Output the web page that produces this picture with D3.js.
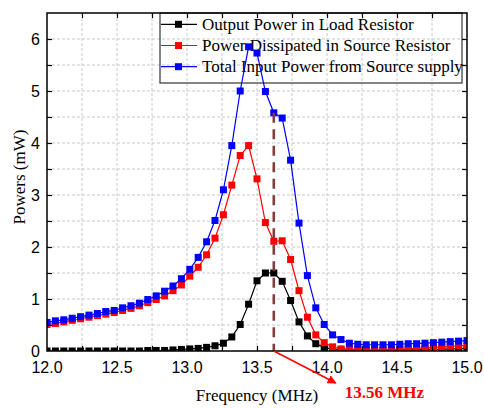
<!DOCTYPE html>
<html>
<head>
<meta charset="utf-8">
<script src="https://cdn.jsdelivr.net/npm/d3@7"></script>
<style>
    body { margin: 0; background: #fff; }
    svg { display: block; }
    .grid line { stroke: #c8c8c8; stroke-width: 1; stroke-dasharray: 3,2; }
    .tick-label { font-family: "Liberation Sans", Arial, sans-serif; font-size: 16px; fill: #000; }
    .title { font-family: "Liberation Serif", "Times New Roman", serif; font-size: 17px; fill: #000; }
    .legend text { font-family: "Liberation Serif", "Times New Roman", serif; font-size: 17px; fill: #000; }
</style>
</head>
<body>
<svg id="chart" width="484" height="408"></svg>
<script>
var freq = [12.00, 12.06, 12.12, 12.18, 12.24, 12.30, 12.36, 12.42, 12.48, 12.54,
    12.60, 12.66, 12.72, 12.78, 12.84, 12.90, 12.96, 13.02, 13.08, 13.14,
    13.20, 13.26, 13.32, 13.38, 13.44, 13.50, 13.56, 13.62, 13.68, 13.74,
    13.80, 13.86, 13.92, 13.98, 14.04, 14.10, 14.16, 14.22, 14.28, 14.34,
    14.40, 14.46, 14.52, 14.58, 14.64, 14.70, 14.76, 14.82, 14.88, 14.94, 15.00];

var loadPower = [0, 0, 0, 0, 0, 0, 0, 0, 0, 0, 0, 0, 0.01, 0.01, 0.01,
    0.02, 0.03, 0.04, 0.05, 0.07, 0.10, 0.15,
    0.27, 0.51, 0.90, 1.35, 1.50, 1.50, 1.34, 0.97, 0.56, 0.29, 0.14,
    0.07, 0.03, 0.02, 0.01, 0.01, 0.01, 0.01, 0.01, 0.01, 0.02, 0.02, 0.02, 0.03, 0.03, 0.03, 0.04, 0.04, 0.05];

var sourcePower = [0.51, 0.53, 0.56, 0.59, 0.62, 0.65, 0.68, 0.71, 0.74, 0.78, 0.82, 0.87, 0.93,
    0.99, 1.06, 1.16, 1.27, 1.44, 1.61, 1.85, 2.17, 2.62,
    3.19, 3.76, 3.95, 3.31, 2.47, 2.11, 2.12, 1.76, 1.16, 0.65, 0.31,
    0.16, 0.08, 0.04, 0.03, 0.03, 0.02, 0.02, 0.02, 0.03, 0.03, 0.04, 0.05, 0.06, 0.07, 0.08, 0.09, 0.10, 0.11];

var totalPower = [0.55, 0.58, 0.60, 0.63, 0.66, 0.69, 0.72, 0.76, 0.78, 0.83, 0.87, 0.92, 0.99,
    1.06, 1.15, 1.25, 1.39, 1.57, 1.80, 2.10, 2.51, 3.10,
    3.95, 5.00, 5.85, 5.73, 4.99, 4.58, 4.48, 3.67, 2.46, 1.45, 0.83,
    0.51, 0.31, 0.22, 0.15, 0.13, 0.12, 0.12, 0.12, 0.12, 0.13, 0.14, 0.14, 0.15, 0.16, 0.17, 0.18, 0.19, 0.20];

var seriesNames = ["Output Power in Load Resistor", "Power Dissipated in Source Resistor", "Total Input Power from Source supply"];
var seriesColors = ["#000000", "#ff0000", "#0000ff"];
var xTicks = [12.0, 12.5, 13.0, 13.5, 14.0, 14.5, 15.0];
var yTicks = [0, 1, 2, 3, 4, 5, 6];
var markFreq = 13.62;
var markLabel = "13.56 MHz";

var svg = d3.select("#chart"),
    margin = { top: 13, right: 17, bottom: 57, left: 47 },
    width = 484 - margin.left - margin.right,
    height = 408 - margin.top - margin.bottom;

var x = d3.scaleLinear().domain([12, 15]).range([0, width]),
    y = d3.scaleLinear().domain([0, 6.5]).range([height, 0]);

var defs = svg.append("defs");
defs.append("clipPath").attr("id", "clip")
    .append("rect").attr("width", width).attr("height", height);
defs.append("marker")
    .attr("id", "arrow")
    .attr("viewBox", "0 0 10 10")
    .attr("refX", 9).attr("refY", 5)
    .attr("markerWidth", 9).attr("markerHeight", 9)
    .attr("markerUnits", "userSpaceOnUse")
    .attr("orient", "auto")
    .append("path").attr("d", "M0,0L10,5L0,10z").attr("fill", "#ff0000");

var g = svg.append("g").attr("transform", "translate(" + margin.left + "," + margin.top + ")");

// grid every minor tick
var xMinor = d3.range(12.25, 15, 0.25),
    yMinor = d3.range(0.5, 6.5, 0.5);
var grid = g.append("g").attr("class", "grid");
grid.selectAll(".gx").data(xMinor).enter().append("line")
    .attr("x1", function(d) { return x(d); }).attr("x2", function(d) { return x(d); })
    .attr("y1", 0).attr("y2", height);
grid.selectAll(".gy").data(yMinor).enter().append("line")
    .attr("y1", function(d) { return y(d); }).attr("y2", function(d) { return y(d); })
    .attr("x1", 0).attr("x2", width);

// legend (transparent, sits under the data)
var legend = g.append("g").attr("class", "legend");
legend.append("rect")
    .attr("x", 113).attr("y", 0)
    .attr("width", 302).attr("height", 70)
    .attr("fill", "none").attr("stroke", "#444").attr("stroke-width", 1.3);
seriesNames.forEach(function(name, i) {
    var ly = 11.3 + i * 21.2;
    legend.append("line")
        .attr("x1", 114).attr("x2", 150).attr("y1", ly).attr("y2", ly)
        .attr("stroke", seriesColors[i]).attr("stroke-width", 1.2);
    legend.append("rect")
        .attr("x", 131.5 - 3.5).attr("y", ly - 3.5).attr("width", 7).attr("height", 7)
        .attr("fill", seriesColors[i]);
    legend.append("text")
        .attr("x", 155).attr("y", ly + 5.5)
        .text(name);
});

// data
var allSeries = [loadPower, sourcePower, totalPower];
var plot = g.append("g").attr("clip-path", "url(#clip)");
var line = d3.line()
    .x(function(d, i) { return x(freq[i]); })
    .y(function(d) { return y(d); });

allSeries.forEach(function(vals, s) {
    plot.append("path")
        .datum(vals)
        .attr("fill", "none")
        .attr("stroke", seriesColors[s])
        .attr("stroke-width", 1.2)
        .attr("d", line);
    plot.selectAll(".m" + s).data(vals).enter().append("rect")
        .attr("class", "m" + s)
        .attr("x", function(d, i) { return x(freq[i]) - 3.5; })
        .attr("y", function(d) { return y(d) - 3.5; })
        .attr("width", 7).attr("height", 7)
        .attr("fill", seriesColors[s]);
});

// resonance marker
var markIdx = freq.indexOf(markFreq);
g.append("line")
    .attr("x1", x(markFreq)).attr("x2", x(markFreq))
    .attr("y1", y(totalPower[markIdx])).attr("y2", height)
    .attr("stroke", "#843c3c").attr("stroke-width", 2.6)
    .attr("stroke-dasharray", "10,6.5");

// axes frame with inward ticks
var xAxisB = d3.axisBottom(x).tickValues(xMinor).tickSize(-5).tickFormat(""),
    xAxisT = d3.axisTop(x).tickValues(xMinor).tickSize(-5).tickFormat(""),
    yAxisL = d3.axisLeft(y).tickValues(yMinor).tickSize(-5).tickFormat(""),
    yAxisR = d3.axisRight(y).tickValues(yMinor).tickSize(-5).tickFormat("");

g.append("g").attr("transform", "translate(0," + height + ")").call(xAxisB);
g.append("g").call(xAxisT);
g.append("g").call(yAxisL);
g.append("g").attr("transform", "translate(" + width + ",0)").call(yAxisR);
g.selectAll(".domain").remove();
g.selectAll(".tick line").attr("stroke", "#000").attr("stroke-width", 1.2);

g.append("rect")
    .attr("width", width).attr("height", height)
    .attr("fill", "none").attr("stroke", "#000").attr("stroke-width", 1.5);

// tick labels
g.selectAll(".xl").data(xTicks).enter().append("text")
    .attr("class", "tick-label")
    .attr("x", function(d) { return x(d); })
    .attr("y", height + 22)
    .attr("text-anchor", "middle")
    .text(function(d) { return d3.format(".1f")(d); });

g.selectAll(".yl").data(yTicks).enter().append("text")
    .attr("class", "tick-label")
    .attr("x", -7)
    .attr("y", function(d) { return y(d) + 6; })
    .attr("text-anchor", "end")
    .text(function(d) { return d; });

// axis titles
g.append("text")
    .attr("class", "title")
    .attr("x", width / 2).attr("y", height + 50)
    .attr("text-anchor", "middle")
    .text("Frequency (MHz)");

g.append("text")
    .attr("class", "title")
    .attr("transform", "translate(-22," + (height / 2 - 5) + ") rotate(-90)")
    .attr("text-anchor", "middle")
    .text("Powers (mW)");

// arrow + label
g.append("line")
    .attr("x1", x(markFreq)).attr("y1", height)
    .attr("x2", x(markFreq) + 62).attr("y2", height + 32)
    .attr("stroke", "#ff0000").attr("stroke-width", 1.5)
    .attr("marker-end", "url(#arrow)");

g.append("text")
    .attr("x", x(markFreq) + 71).attr("y", height + 47)
    .attr("font-family", "'Liberation Serif', 'Times New Roman', serif")
    .attr("font-size", "17px")
    .attr("font-weight", "bold")
    .attr("fill", "#ff0000")
    .text(markLabel);
</script>
</body>
</html>
